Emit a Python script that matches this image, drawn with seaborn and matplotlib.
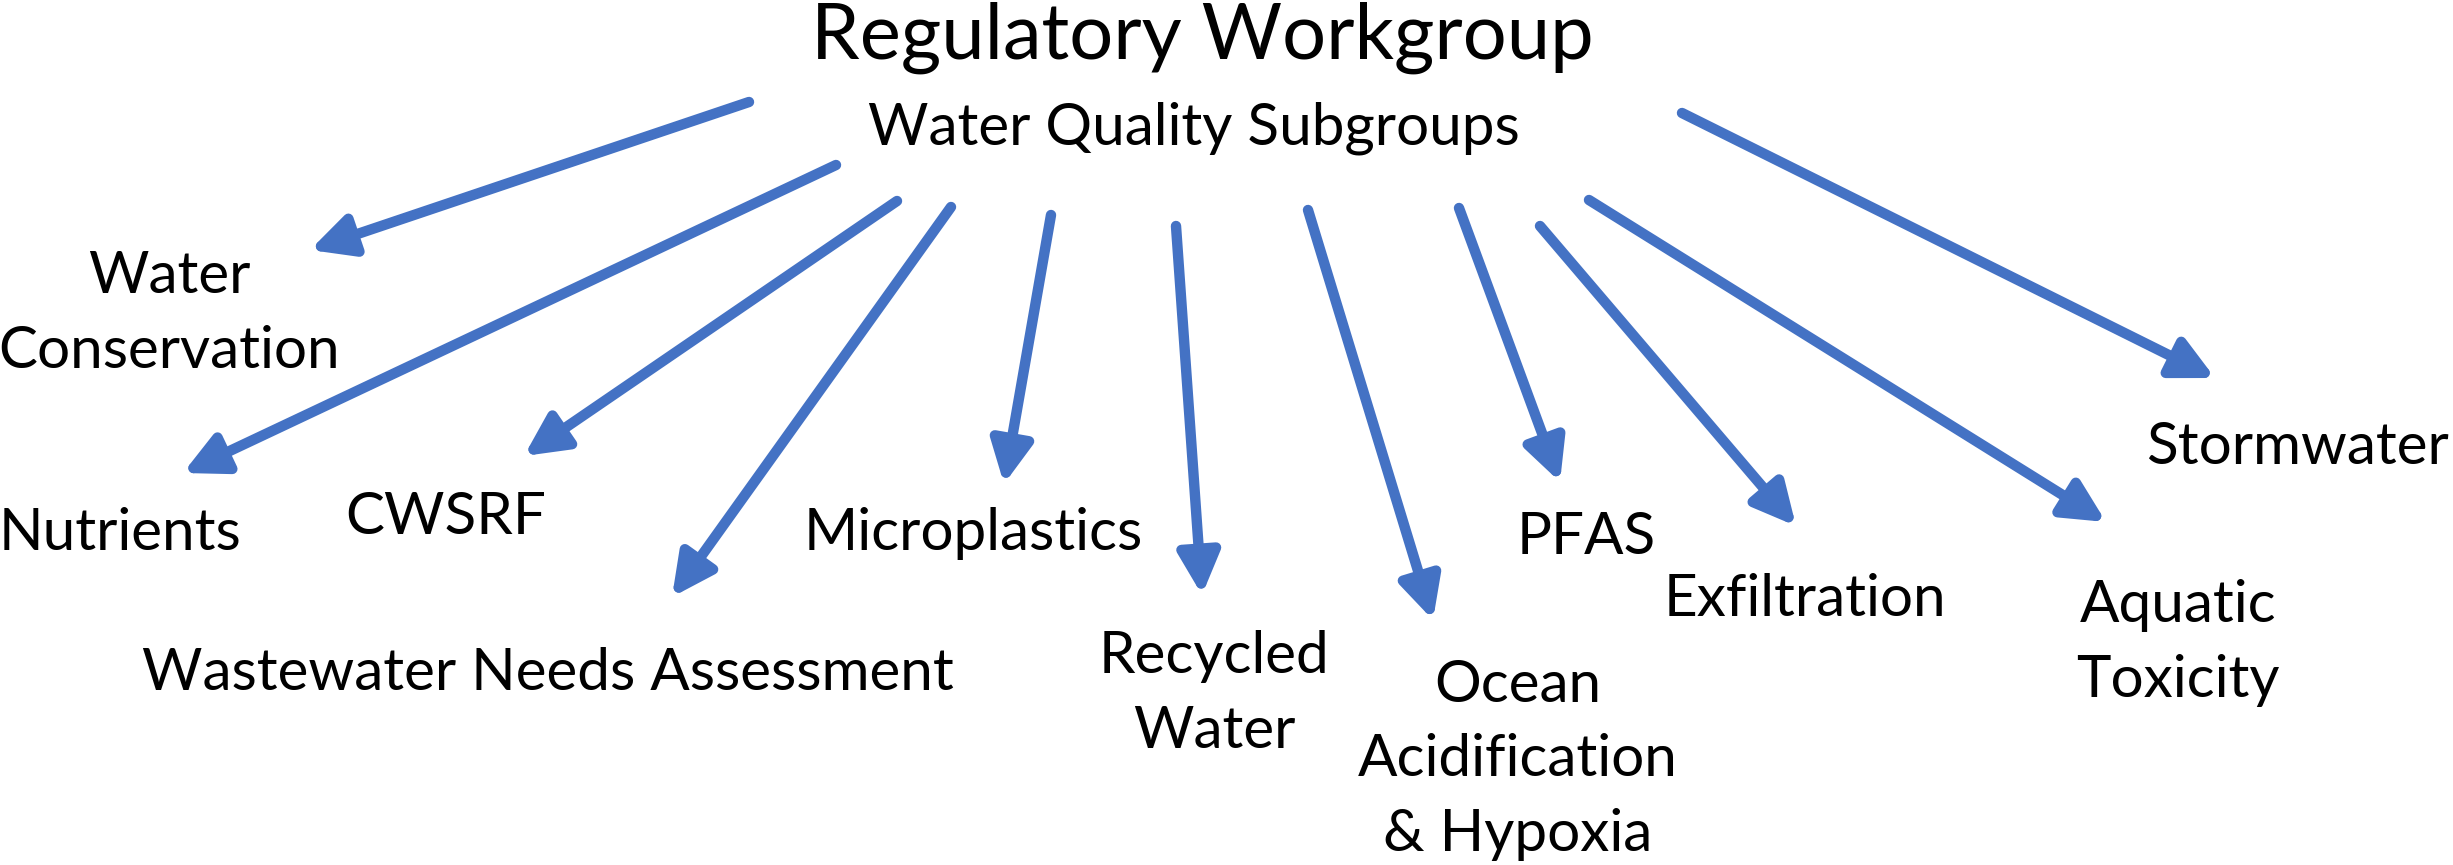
import matplotlib
matplotlib.use("Agg")
import matplotlib.pyplot as plt
import seaborn as sns

# Regulatory Workgroup -> water quality subgroups (arrow diagram)
# positions are in pixel units of the 2453x865 canvas (y grows downward)

title = "Regulatory Workgroup"
subtitle = "Water Quality Subgroups"

labels = ["Water\nConservation", "Nutrients", "CWSRF", "Wastewater Needs Assessment",
          "Microplastics", "Recycled\nWater", "Ocean\nAcidification\n& Hypoxia",
          "PFAS", "Exfiltration", "Aquatic\nToxicity", "Stormwater"]
label_x = [169, 120, 446, 548, 973, 1214, 1518, 1586, 1805, 2178, 2297]
label_y = [314, 533, 517, 673, 533, 694, 760, 537, 600, 643, 447]

arrow_x0 = [749, 836, 897, 951, 1051, 1176, 1308, 1459, 1540, 1589, 1682]
arrow_y0 = [102, 165, 201, 207, 215, 226, 210, 208, 226, 200, 113]
arrow_x1 = [310, 183, 524, 672, 1004, 1202, 1433, 1560, 1796, 2106, 2215]
arrow_y1 = [250, 473, 456, 597, 484, 595, 620, 482, 526, 522, 378]

BLUE = "#4472C4"

sns.set_theme(style="white")
plt.rcParams["font.family"] = ["Lato", "DejaVu Sans"]

fig = plt.figure(figsize=(24.53, 8.65), dpi=100)
ax = fig.add_axes([0, 0, 1, 1])
ax.set_xlim(0, 2453)
ax.set_ylim(865, 0)
ax.axis("off")

ax.text(1202, 38, title, ha="center", va="center", fontsize=56, color="black")
ax.text(1194, 128, subtitle, ha="center", va="center", fontsize=42, color="black")

for x0, y0, x1, y1 in zip(arrow_x0, arrow_y0, arrow_x1, arrow_y1):
    ax.annotate("", xy=(x1, y1), xytext=(x0, y0),
                arrowprops=dict(arrowstyle="-|>,head_length=1.0,head_width=0.5",
                                mutation_scale=25, lw=7.5, color=BLUE,
                                shrinkA=0, shrinkB=0))

for lab, x, y in zip(labels, label_x, label_y):
    ax.text(x, y, lab, ha="center", va="center", fontsize=42,
            color="black", linespacing=1.5, multialignment="center")

fig.savefig("out.png", dpi=100, facecolor="white")
